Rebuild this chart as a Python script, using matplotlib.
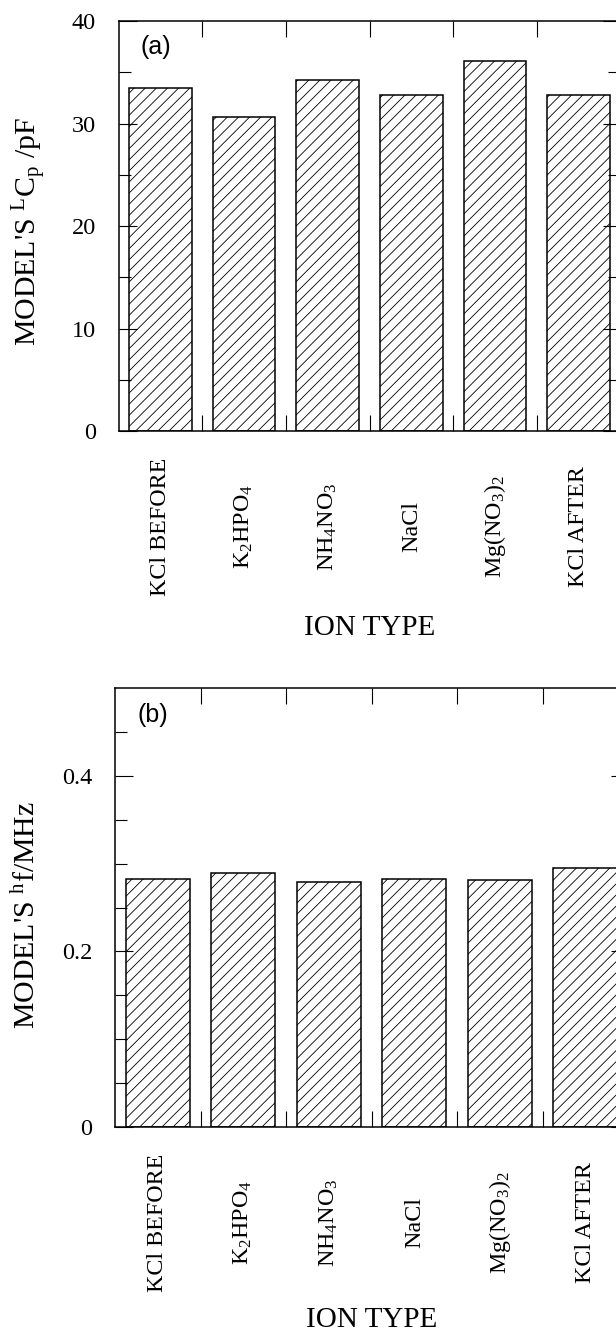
'''
Bar charts of the fitted model parameters for each ion type.
'''

import matplotlib
matplotlib.use('Agg')
from matplotlib import pyplot as pl
from matplotlib.ticker import FixedLocator

pl.rcParams['font.family'] = ['Liberation Serif', 'DejaVu Serif']
pl.rcParams['mathtext.fontset'] = 'custom'
pl.rcParams['mathtext.rm'] = 'Liberation Serif'
pl.rcParams['mathtext.it'] = 'Liberation Serif:italic'
pl.rcParams['hatch.linewidth'] = 0.6
pl.rcParams['hatch.color'] = 'black'

# Ion types on the x axis
ions = [
        'KCl BEFORE',
        'K$_2$HPO$_4$',
        'NH$_4$NO$_3$',
        'NaCl',
        'Mg(NO$_3$)$_2$',
        'KCl AFTER',
        ]

# Model's low frequency capacitance [pF]
cap = [33.5, 30.65, 34.25, 32.8, 36.1, 32.8]

# Model's high frequency [MHz]
freq = [0.282, 0.289, 0.279, 0.2825, 0.281, 0.295]

cap_ticks = [0, 10, 20, 30, 40]
freq_ticks = [0, 0.2, 0.4]
freq_ticklabels = ['0', '0.2', '0.4']

W, H = 616, 1335
fig = pl.figure(figsize=(W/100, H/100), dpi=100)


def axes_px(left, right, top, bottom):
    '''
    Add axes from pixel edges (measured from the top left corner).
    '''
    return fig.add_axes([left/W, 1-bottom/H, (right-left)/W, (bottom-top)/H])


def barpanel(ax, values, ymax, yticks, yminor, yticklabels, ylabel, tag,
             ylab_x, ylab_y, xlab_y):
    '''
    Draw one hatched bar panel with the tick style shared by both.
    '''

    x = list(range(len(values)))
    ax.bar(x, values, width=0.75, color='white', edgecolor='black',
           linewidth=1.1, hatch='///')

    ax.set_xlim(-0.5, len(values)-0.5)
    ax.set_ylim(0, ymax)

    # Category labels at centres, tick marks at the boundaries
    ax.set_xticks(x)
    ax.set_xticklabels(ions, rotation=90, va='center', ha='center',
                       fontsize=17.3)
    ax.xaxis.set_minor_locator(FixedLocator([i+0.5 for i in x[:-1]]))
    ax.tick_params(axis='x', which='major', length=0, pad=69)
    ax.tick_params(axis='x', which='minor', direction='in', length=11.5,
                   width=0.8, top=True, bottom=True)

    ax.set_yticks(yticks)
    ax.set_yticklabels(yticklabels, fontsize=17.5)
    ax.yaxis.set_minor_locator(FixedLocator(yminor))
    ax.tick_params(axis='y', which='major', direction='in', length=12.6,
                   width=0.8, pad=16.5, left=True, right=True)
    ax.tick_params(axis='y', which='minor', direction='in', length=8.6,
                   width=0.8, left=True, right=True)

    for spine in ax.spines.values():
        spine.set_linewidth(1.1)

    ax.set_ylabel(ylabel, fontsize=21.5, va='center', ha='center')
    ax.yaxis.set_label_coords(ylab_x, ylab_y)
    ax.set_xlabel('ION TYPE', fontsize=21, va='center', ha='center')
    ax.xaxis.set_label_coords(0.5, xlab_y)

    ax.text(0.044, 0.965, tag, transform=ax.transAxes, fontsize=18,
            family='Liberation Sans', va='top', ha='left')


ax1 = axes_px(118.7, 620.3, 21, 431)
barpanel(ax1, cap, 40, cap_ticks, [5, 15, 25, 35],
         [str(i) for i in cap_ticks],
         "MODEL'S $^{\\mathrm{L}}$C$_{\\mathrm{p}}$ /pF", '(a)',
         -0.177, 0.486, -0.48)

ax2 = axes_px(115.1, 628, 688, 1127)
barpanel(ax2, freq, 0.5, freq_ticks, [0.05, 0.1, 0.15, 0.25, 0.3, 0.35, 0.45],
         freq_ticklabels,
         "MODEL'S $^{\\mathrm{h}}$f/MHz", '(b)',
         -0.171, 0.482, -0.44)

fig.savefig('out.png', dpi=100)
